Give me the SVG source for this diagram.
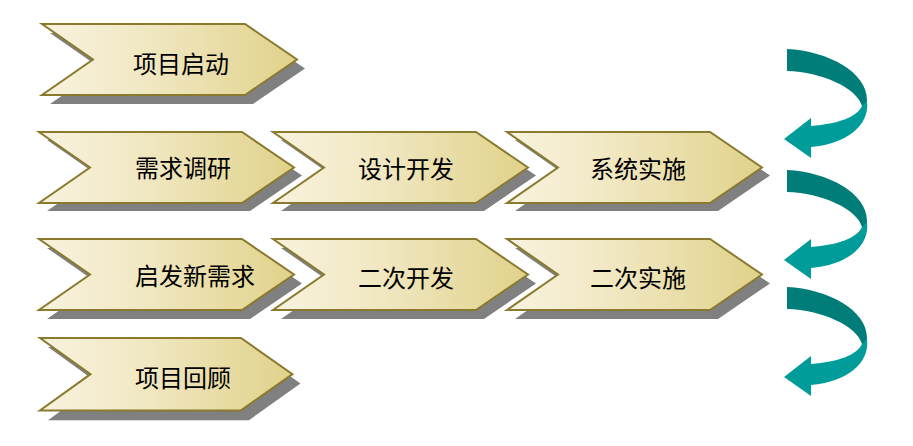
<svg xmlns="http://www.w3.org/2000/svg" xmlns:xlink="http://www.w3.org/1999/xlink" width="913" height="446" viewBox="0 0 913 446">
<style>
.shadow{fill:#808080;}
.chev{fill:url(#gold);stroke:#8a7a2e;stroke-width:2;stroke-linejoin:miter;}
.lbl{font-family:"Noto Sans CJK SC","Noto Sans",sans-serif;font-size:24px;fill:#000;}
.dark{fill:#007d79;}
.light{fill:#009c9a;}
</style>
<defs>
<linearGradient id="gold" x1="0" y1="0" x2="1" y2="0">
<stop offset="0" stop-color="#f8f3df"/>
<stop offset="0.45" stop-color="#f0e6bf"/>
<stop offset="1" stop-color="#e0d28a"/>
</linearGradient>
<path id="chevShape" d="M0,0 H203 L255,35.5 L203,71 H0 L51,35.5 Z"/>
<g id="curl">
<path class="dark" d="M787,49 C828,51 867,72 867,100 L866,109 L862,106 C857,88 822,72 787,71 Z"/>
<path class="light" d="M867,101 C870,126 846,144 811,147 L811,158 L784,139 L811,118 L811,126 C838,124 857,117 862,106 Z"/>
</g>
</defs>
<rect width="913" height="446" fill="#ffffff"/>

<g id="n1">
<use xlink:href="#chevShape" class="shadow" transform="translate(50,33)"/>
<use xlink:href="#chevShape" class="chev" transform="translate(42,24)"/>
<text class="lbl" x="133" y="73">项目启动</text>
</g>

<g id="n2">
<use xlink:href="#chevShape" class="shadow" transform="translate(47,140)"/>
<use xlink:href="#chevShape" class="chev" transform="translate(39,132)"/>
<text class="lbl" x="135" y="177">需求调研</text>
</g>
<g id="n3">
<use xlink:href="#chevShape" class="shadow" transform="translate(281,140)"/>
<use xlink:href="#chevShape" class="chev" transform="translate(273,132)"/>
<text class="lbl" x="358" y="178">设计开发</text>
</g>
<g id="n4">
<use xlink:href="#chevShape" class="shadow" transform="translate(515,140)"/>
<use xlink:href="#chevShape" class="chev" transform="translate(507,132)"/>
<text class="lbl" x="590" y="178">系统实施</text>
</g>

<g id="n5">
<use xlink:href="#chevShape" class="shadow" transform="translate(47,248)"/>
<use xlink:href="#chevShape" class="chev" transform="translate(39,239)"/>
<text class="lbl" x="135" y="285">启发新需求</text>
</g>
<g id="n6">
<use xlink:href="#chevShape" class="shadow" transform="translate(281,248)"/>
<use xlink:href="#chevShape" class="chev" transform="translate(273,239)"/>
<text class="lbl" x="358" y="287">二次开发</text>
</g>
<g id="n7">
<use xlink:href="#chevShape" class="shadow" transform="translate(515,248)"/>
<use xlink:href="#chevShape" class="chev" transform="translate(507,239)"/>
<text class="lbl" x="590" y="287">二次实施</text>
</g>

<g id="n8">
<use xlink:href="#chevShape" class="shadow" transform="translate(48,347) scale(0.99,1.03)"/>
<use xlink:href="#chevShape" class="chev" transform="translate(40,338) scale(0.99,1.02)"/>
<text class="lbl" x="135" y="387">项目回顾</text>
</g>

<g id="connectors">
<use xlink:href="#curl"/>
<use xlink:href="#curl" transform="translate(0,121)"/>
<use xlink:href="#curl" transform="translate(0,238)"/>
</g>
</svg>
